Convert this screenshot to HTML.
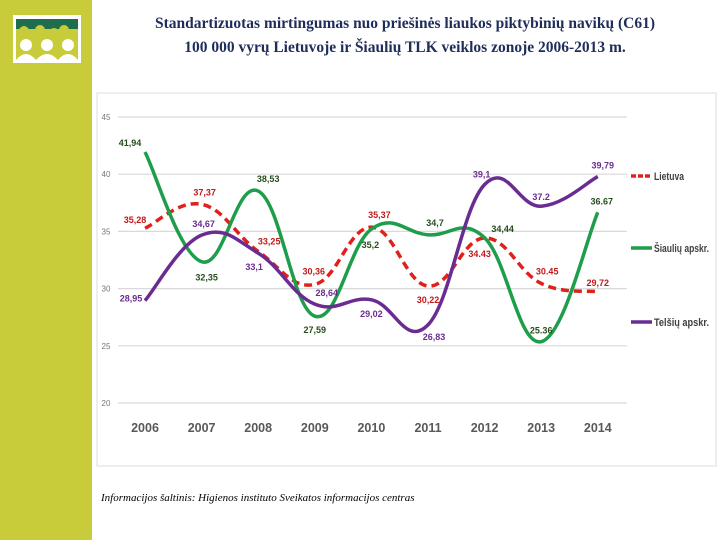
<!DOCTYPE html>
<html><head><meta charset="utf-8">
<style>
body{margin:0;width:720px;height:540px;background:#fff;position:relative;overflow:hidden;font-family:"Liberation Sans",sans-serif}
#side{position:absolute;left:0;top:0;width:92px;height:540px;background:#c8cc3a}
#title{position:absolute;left:95px;width:620px;top:12px;text-align:center;font-family:"Liberation Serif",serif;font-weight:bold;font-size:15.5px;line-height:24px;color:#1f2d5a}
#foot{position:absolute;left:101px;top:492px;font-family:"Liberation Serif",serif;font-style:italic;font-size:11px;color:#000}
svg{position:absolute;left:0;top:0}
</style></head><body>
<div id="side"></div>
<svg width="720" height="540">
 <g>
  <rect x="13" y="15" width="68" height="48" fill="#fff"/>
  <rect x="16" y="19" width="62" height="41" fill="#c8cc3a"/>
  <rect x="16" y="19" width="62" height="10" fill="#1e6e4e"/>
  <circle cx="24" cy="31" r="5" fill="#c8cc3a"/><circle cx="40" cy="30" r="5" fill="#c8cc3a"/><circle cx="54" cy="33" r="5" fill="#c8cc3a"/><circle cx="64" cy="30" r="5" fill="#c8cc3a"/>
  <circle cx="26" cy="45" r="6" fill="#fff"/><circle cx="47" cy="45" r="6" fill="#fff"/><circle cx="68" cy="45" r="6" fill="#fff"/>
  <path d="M16 60 Q26 48 36 60 Q47 48 58 60 Q68 48 78 60Z" fill="#fff"/>
 </g>
 <rect x="97" y="93" width="619" height="373" fill="#fff" stroke="#ddd"/>
 <g id="grid"></g><g id="lines"></g><g id="labels"></g><g id="legend"></g>
</svg>
<div id="title">Standartizuotas mirtingumas nuo priešinės liaukos piktybinių navikų (C61)<br>100 000 vyrų Lietuvoje ir Šiaulių TLK veiklos zonoje 2006-2013 m.</div>
<div id="foot">Informacijos šaltinis: Higienos instituto Sveikatos informacijos centras</div>
<script>
const years=["2006","2007","2008","2009","2010","2011","2012","2013","2014"];
const yTicks=[20,25,30,35,40,45];
const lietuva=[35.28,37.37,33.25,30.36,35.37,30.22,34.43,30.45,29.72];
const siauliu=[41.94,32.35,38.53,27.59,35.2,34.7,34.44,25.36,36.67];
const telsiu=[28.95,34.67,33.1,28.64,29.02,26.83,39.1,37.2,39.79];
const seriesNames=["Lietuva","Šiaulių apskr.","Telšių apskr."];
const lietuvaLbl=["35,28","37,37","33,25","30,36","35,37","30,22","34.43","30.45","29,72"];
const siauliuLbl=["41,94","32,35","38,53","27,59","35,2","34,7","34,44","25.36","36.67"];
const telsiuLbl=["28,95","34,67","33,1","28,64","29,02","26,83","39,1","37.2","39,79"];
const NS="http://www.w3.org/2000/svg";
function X(i){return 145+i*56.6;}
function Y(v){return 403-(v-20)*11.44;}
function mk(t,a,p){const e=document.createElementNS(NS,t);for(const k in a)e.setAttribute(k,a[k]);p.appendChild(e);return e;}
const grid=document.getElementById('grid');
yTicks.forEach(t=>{
 const l=mk('line',{x1:118,x2:627,y1:Y(t),y2:Y(t),stroke:'#d9d9d9','stroke-width':1.2},grid);
 
 
 const tx=mk('text',{x:106,y:Y(t)+3,'font-size':8,fill:'#777','text-anchor':'middle'},grid);tx.textContent=t;
 
 
});
years.forEach((y,i)=>{
 const tx=mk('text',{x:X(i),y:432,'font-size':12.5,'font-weight':'bold',fill:'#595959','text-anchor':'middle'},grid);tx.textContent=y;
 
 
});
function path(vals){
 const p=vals.map((v,i)=>[X(i),Y(v)]);let d='M'+p[0][0]+' '+p[0][1];
 for(let i=0;i<p.length-1;i++){const p0=p[i-1]||p[i],p1=p[i],p2=p[i+1],p3=p[i+2]||p2;const t=0.2;
  d+=` C${p1[0]+(p2[0]-p0[0])*t} ${p1[1]+(p2[1]-p0[1])*t} ${p2[0]-(p3[0]-p1[0])*t} ${p2[1]-(p3[1]-p1[1])*t} ${p2[0]} ${p2[1]}`;}
 return d;}
const lines=document.getElementById('lines');
const cfg=[[lietuva,'#e0201b','8,5',lietuvaLbl,'#c0191a'],[siauliu,'#1e9e4a','',siauliuLbl,'#274d1f'],[telsiu,'#6a2c91','',telsiuLbl,'#6a2c91']];
const offs=[
 [[-10,-8],[3,-12],[11,-10],[-1,-13],[8,-12],[0,14],[-5,16],[6,-12],[0,-9]],
 [[-15,-9],[5,16],[10,-12],[0,14],[-1,16],[7,-12],[18,-9],[0,-11],[4,-11]],
 [[-14,-2],[2,-11],[-4,14],[12,-11],[0,14],[6,12],[-3,-10],[0,-9],[5,-11]]];
const lab=document.getElementById('labels');
cfg.forEach((c,s)=>{
 const e=mk('path',{d:path(c[0]),fill:'none',stroke:c[1],'stroke-width':3.5,'stroke-dasharray':c[2]},lines);
 
 
 c[0].forEach((v,i)=>{
  const t=mk('text',{x:X(i)+offs[s][i][0],y:Y(v)+offs[s][i][1]+3,'font-size':9,'font-weight':'bold',fill:c[4],'text-anchor':'middle'},lab);t.textContent=c[3][i];
  
  
 });
 const ly=[176,248,322][s];
 const g=mk('g',{},document.getElementById('legend'));
 
 
 mk('line',{x1:631,x2:652,y1:ly,y2:ly,stroke:c[1],'stroke-width':3.5,'stroke-dasharray':c[2]?'5,2':''},g);
 const t=mk('text',{x:654,y:ly+4,'font-size':11,'font-weight':'bold',fill:'#404040',textLength:[30,55,55][s],lengthAdjust:'spacingAndGlyphs'},g);t.textContent=seriesNames[s];
});
</script>
</body></html>
